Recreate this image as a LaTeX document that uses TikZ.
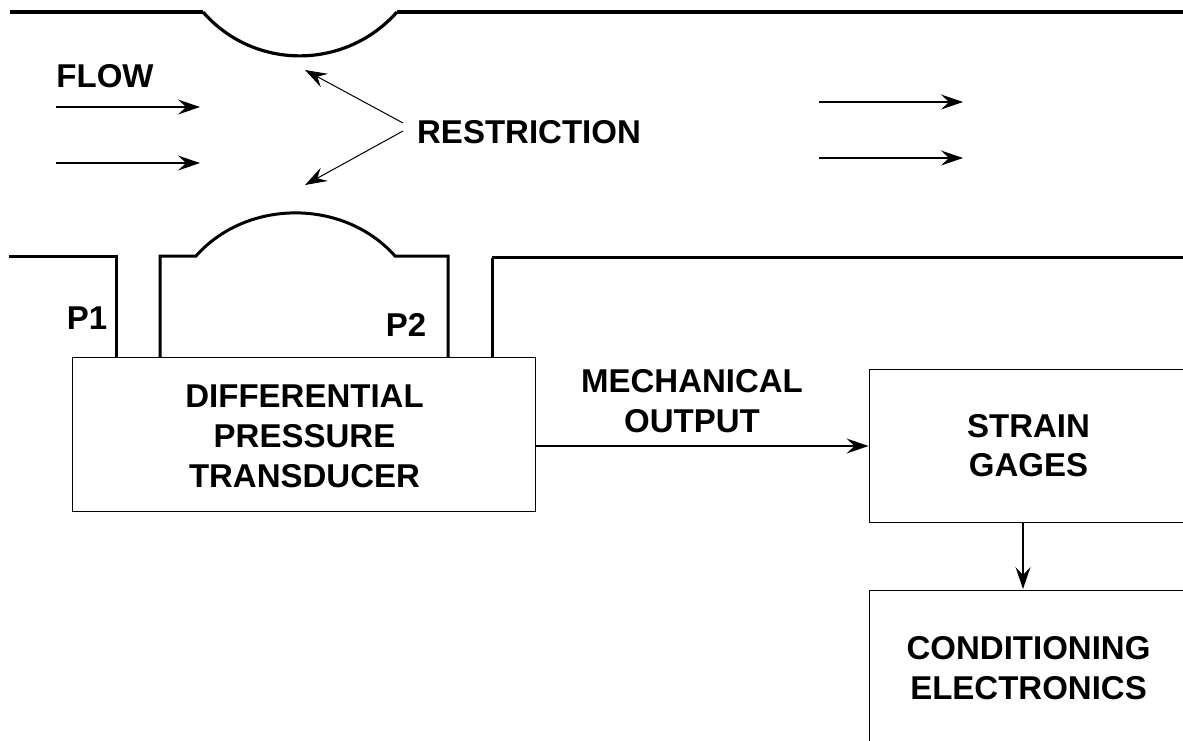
\documentclass[tikz,border=0pt]{standalone}
\usepackage{fontspec}
\setmainfont{Liberation Sans}
\usetikzlibrary{arrows.meta}
\tikzset{
  wall/.style={line width=3.6pt,line join=miter},
  arc wall/.style={line width=3.2pt},
  stem/.style={line width=3pt},
  box/.style={draw,line width=1.2pt,align=center,inner sep=0pt,anchor=north west},
  lbl/.style={font=\fontsize{33}{40}\selectfont\bfseries,align=center,inner sep=0pt},
  arr/.style={line width=1.4pt,-{Stealth[length=22pt,width=15pt,inset=8pt]}},
  ptr/.style={line width=1pt,-{Stealth[length=22pt,width=15pt,inset=8pt]}}
}
\begin{document}
\begin{tikzpicture}[x=1pt,y=-1pt]
  \useasboundingbox (0,0) rectangle (1183,740);
  % upper wall with restriction
  \coordinate (T1) at (10,12);
  \coordinate (T2) at (203,12);
  \coordinate (T3) at (397,12);
  \coordinate (T4) at (1183,12);
  \draw[wall] (T1)--(T2);
  \draw[arc wall] (T2) .. controls (254,70.5) and (345,70.5) .. (T3);
  \draw[wall] (T3)--(T4);
  % lower wall
  \coordinate (L1) at (9,256);
  \coordinate (L2) at (116,256);
  \coordinate (L3) at (116,357);
  \coordinate (L4) at (160,357);
  \coordinate (L5) at (160,256);
  \coordinate (L6) at (196,256);
  \coordinate (L7) at (395,256);
  \coordinate (L8) at (448,256);
  \coordinate (L9) at (448,357);
  \coordinate (L10) at (492,357);
  \coordinate (L11) at (492,257.5);
  \coordinate (L12) at (1183,257.5);
  \draw[stem] (L1)--(L2)--(L3);
  \draw[stem] (L4)--(L5)--(L6) .. controls (247,198.5) and (344,198.5) .. (L7)--(L8)--(L9);
  \draw[stem] (L10)--(L11);
  \draw[wall] (L11)--(L12);
  % boxes
  \node[box,minimum width=463pt,minimum height=154pt] (DPT) at (72,356.5) {};
  \node[box,minimum width=330pt,minimum height=153pt] (SG) at (868.5,368.5) {};
  \node[box,minimum width=330pt,minimum height=170pt] (CE) at (868.5,589.5) {};
  % labels
  \node[lbl] (FLOW) at (105,76) {FLOW};
  \node[lbl] (REST) at (529,132) {RESTRICTION};
  \node[lbl] (P1) at (87,318) {P1};
  \node[lbl] (P2) at (406,325) {P2};
  \node[lbl] (DPTX) at (304.5,436) {DIFFERENTIAL\\PRESSURE\\TRANSDUCER};
  \node[lbl] (MECH) at (692,401) {MECHANICAL\\OUTPUT};
  \node[lbl] (SGX) at (1028.5,446) {STRAIN\\[-1pt]GAGES};
  \node[lbl] (CEX) at (1028.5,668) {CONDITIONING\\ELECTRONICS};
  % flow arrows
  \coordinate (F1a) at (56,107); \coordinate (F1b) at (200,107);
  \coordinate (F2a) at (56,163); \coordinate (F2b) at (200,163);
  \coordinate (F3a) at (819,102); \coordinate (F3b) at (963,102);
  \coordinate (F4a) at (819,158); \coordinate (F4b) at (963,158);
  \draw[arr] (F1a)--(F1b);
  \draw[arr] (F2a)--(F2b);
  \draw[arr] (F3a)--(F3b);
  \draw[arr] (F4a)--(F4b);
  % restriction pointers
  \coordinate (R0) at (403,123);
  \coordinate (R3) at (403,131);
  \coordinate (R1) at (305,70);
  \coordinate (R2) at (305,185);
  \draw[ptr] (R0)--(R1);
  \draw[ptr] (R3)--(R2);
  % output arrows
  \coordinate (M1) at (DPT.east|-0,446);
  \coordinate (M2) at (SG.west|-0,446);
  \draw[arr] (M1)--(M2);
  \coordinate (S1) at (1023,522);
  \coordinate (S2) at (1023,589);
  \draw[arr] (S1)--(S2);
\end{tikzpicture}
\end{document}
